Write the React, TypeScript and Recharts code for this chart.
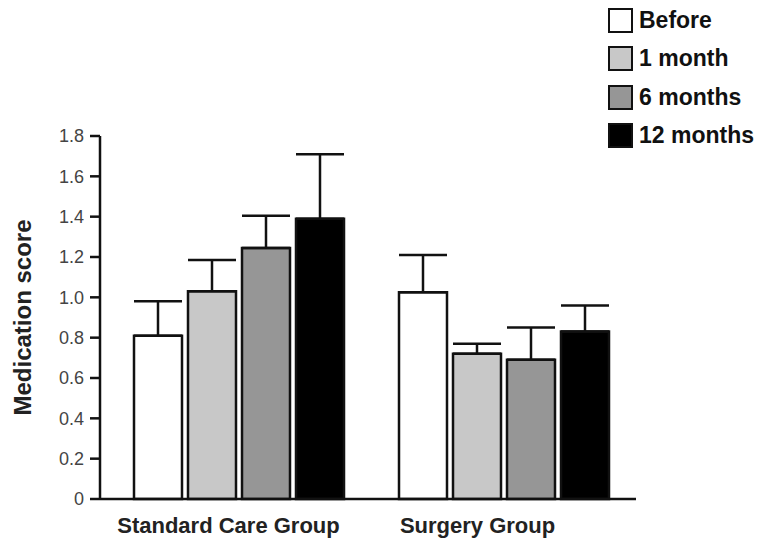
import { BarChart, Bar, XAxis, YAxis, ErrorBar } from "recharts";

const groups = ["Standard Care Group", "Surgery Group"];
const seriesNames = ["Before", "1 month", "6 months", "12 months"];
const seriesColors = ["#ffffff", "#c8c8c8", "#969696", "#000000"];

const before = [0.81, 1.025];
const oneMonth = [1.03, 0.72];
const sixMonths = [1.245, 0.69];
const twelveMonths = [1.39, 0.83];

const beforeErr = [0.17, 0.185];
const oneMonthErr = [0.155, 0.05];
const sixMonthsErr = [0.16, 0.16];
const twelveMonthsErr = [0.32, 0.13];

const yTicks = [0, 0.2, 0.4, 0.6, 0.8, 1.0, 1.2, 1.4, 1.6, 1.8];

const values = [before, oneMonth, sixMonths, twelveMonths];
const errors = [beforeErr, oneMonthErr, sixMonthsErr, twelveMonthsErr];

const data = groups.map((g, i) => {
  const row: Record<string, any> = { group: g };
  seriesNames.forEach((s, k) => {
    row[s] = values[k][i];
    row[s + "_err"] = [0, errors[k][i]];
  });
  return row;
});

const font = "Liberation Sans, Arial, sans-serif";

function LegendBox() {
  return (
    <div
      style={{
        position: "absolute",
        left: 608,
        top: 1,
        fontFamily: font,
      }}
    >
      {seriesNames.map((s, k) => (
        <div
          key={s}
          style={{ display: "flex", alignItems: "center", height: 38.5 }}
        >
          <div
            style={{
              width: 21,
              height: 21,
              background: seriesColors[k],
              border: "2px solid #111",
              marginRight: 6,
            }}
          />
          <span style={{ fontSize: 23, fontWeight: "bold", color: "#111" }}>
            {s}
          </span>
        </div>
      ))}
    </div>
  );
}

export default function App() {
  return (
    <div
      style={{
        position: "absolute",
        left: 0,
        top: 0,
        width: 765,
        height: 546,
        background: "#fff",
      }}
    >
      <BarChart
        width={765}
        height={546}
        data={data}
        margin={{ top: 136, right: 129, bottom: 0, left: 0 }}
        barSize={48}
        barGap={6}
      >
        {/* bar placement axis */}
        <XAxis
          xAxisId="bars"
          dataKey="group"
          height={0}
          padding={{ left: 6, right: 0 }}
          tick={false}
          tickLine={false}
          axisLine={false}
        />
        {/* visible axis with labels, narrower bands like the original */}
        <XAxis
          xAxisId="labels"
          dataKey="group"
          height={47}
          padding={{ left: 4, right: 34 }}
          tickLine={false}
          axisLine={{ stroke: "#111", strokeWidth: 2.5 }}
          tickMargin={12}
          tick={{
            fill: "#222",
            fontSize: 22,
            fontWeight: "bold",
            fontFamily: font,
          }}
        />
        <YAxis
          width={100}
          domain={[0, 1.8]}
          ticks={yTicks}
          interval={0}
          tickSize={10}
          tickMargin={6}
          tickFormatter={(v: number) => (v === 0 ? "0" : v.toFixed(1))}
          axisLine={{ stroke: "#111", strokeWidth: 2.5 }}
          tickLine={{ stroke: "#111", strokeWidth: 2.5 }}
          tick={{
            fill: "#444",
            fontSize: 18,
            fontFamily: font,
          }}
          label={{
            value: "Medication score",
            angle: -90,
            position: "insideLeft",
            offset: 22,
            style: {
              textAnchor: "middle",
              fill: "#222",
              fontSize: 24,
              fontWeight: "bold",
              fontFamily: font,
            },
          }}
        />
        {seriesNames.map((s, k) => (
          <Bar
            key={s}
            xAxisId="bars"
            dataKey={s}
            fill={seriesColors[k]}
            stroke="#111"
            strokeWidth={2.5}
            isAnimationActive={false}
          >
            <ErrorBar
              dataKey={s + "_err"}
              width={24}
              stroke="#111"
              strokeWidth={2.5}
              direction="y"
            />
          </Bar>
        ))}
      </BarChart>
      <LegendBox />
    </div>
  );
}
